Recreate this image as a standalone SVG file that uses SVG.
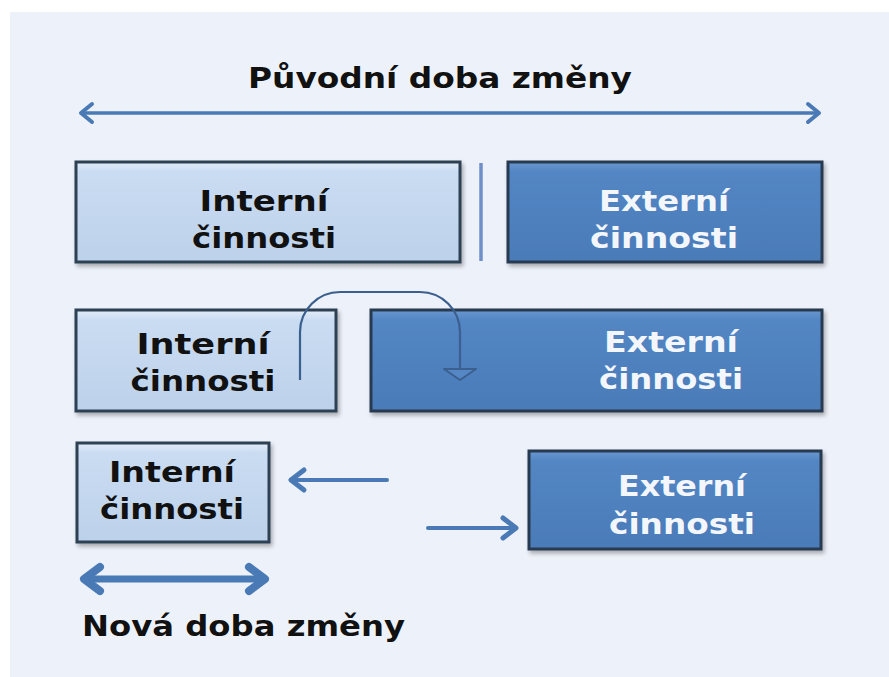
<svg xmlns="http://www.w3.org/2000/svg" width="889" height="677" viewBox="0 0 889 677">
  <defs>
    <linearGradient id="gInt" x1="0" y1="0" x2="0" y2="1">
      <stop offset="0" stop-color="#e2ecf8"/>
      <stop offset="0.1" stop-color="#cadcf2"/>
      <stop offset="1" stop-color="#bcd1ea"/>
    </linearGradient>
    <linearGradient id="gExt" x1="0" y1="0" x2="0" y2="1">
      <stop offset="0" stop-color="#6a97cf"/>
      <stop offset="0.1" stop-color="#5386c4"/>
      <stop offset="1" stop-color="#4b7bb9"/>
    </linearGradient>
    <filter id="shadow" x="-5%" y="-10%" width="112%" height="125%">
      <feGaussianBlur in="SourceAlpha" stdDeviation="2"/>
      <feOffset dx="2" dy="3" result="b"/>
      <feComponentTransfer><feFuncA type="linear" slope="0.3"/></feComponentTransfer>
      <feMerge><feMergeNode/><feMergeNode in="SourceGraphic"/></feMerge>
    </filter>
  </defs>
  <style>
    .int { fill: url(#gInt); stroke: #2f4052; stroke-width: 3; filter: url(#shadow); }
    .ext { fill: url(#gExt); stroke: #283a50; stroke-width: 3; filter: url(#shadow); }
    .t { font-family: "DejaVu Sans", Verdana, sans-serif; font-weight: bold; font-size: 28px; text-anchor: middle; }
    .dark { fill: #111111; }
    .light { fill: #f3f7fc; }
    .lbl { font-family: "DejaVu Sans", Verdana, sans-serif; font-weight: bold; fill: #111111; }
    .arr { fill: none; stroke: #4a7ab5; stroke-linecap: round; }
    .chev { fill: none; stroke: #4a7ab5; stroke-linecap: round; stroke-linejoin: round; }
  </style>

  <rect x="0" y="0" width="889" height="677" fill="#ffffff"/>
  <rect x="10" y="12" width="879" height="665" fill="#edf1f9"/>

  <g id="title">
    <text class="lbl" x="440" y="88" font-size="28" text-anchor="middle" textLength="384" lengthAdjust="spacingAndGlyphs">Původní doba změny</text>
  </g>
  <g id="bottom-label">
    <text class="lbl" x="82" y="636" font-size="28" textLength="323" lengthAdjust="spacingAndGlyphs">Nová doba změny</text>
  </g>

  <g id="int1">
    <rect class="int" x="76" y="162" width="384" height="100"/>
    <text class="t dark" x="264" y="211" textLength="129" lengthAdjust="spacingAndGlyphs">Interní</text>
    <text class="t dark" x="264" y="248" textLength="144" lengthAdjust="spacingAndGlyphs">činnosti</text>
  </g>
  <g id="ext1">
    <rect class="ext" x="508" y="162" width="314" height="100"/>
    <text class="t light" x="664" y="211" textLength="130" lengthAdjust="spacingAndGlyphs">Externí</text>
    <text class="t light" x="664" y="248" textLength="148" lengthAdjust="spacingAndGlyphs">činnosti</text>
  </g>
  <g id="int2">
    <rect class="int" x="76" y="310" width="260" height="101"/>
    <text class="t dark" x="203" y="354" textLength="133" lengthAdjust="spacingAndGlyphs">Interní</text>
    <text class="t dark" x="203" y="391" textLength="145" lengthAdjust="spacingAndGlyphs">činnosti</text>
  </g>
  <g id="ext2">
    <rect class="ext" x="371" y="310" width="451" height="101"/>
    <text class="t light" x="671" y="352" textLength="134" lengthAdjust="spacingAndGlyphs">Externí</text>
    <text class="t light" x="671" y="389" textLength="144" lengthAdjust="spacingAndGlyphs">činnosti</text>
  </g>
  <g id="int3">
    <rect class="int" x="77" y="443" width="192" height="99"/>
    <text class="t dark" x="172" y="482" textLength="126" lengthAdjust="spacingAndGlyphs">Interní</text>
    <text class="t dark" x="172" y="519" textLength="144" lengthAdjust="spacingAndGlyphs">činnosti</text>
  </g>
  <g id="ext3">
    <rect class="ext" x="529" y="451" width="292" height="98"/>
    <text class="t light" x="682" y="496" textLength="128" lengthAdjust="spacingAndGlyphs">Externí</text>
    <text class="t light" x="682" y="534" textLength="146" lengthAdjust="spacingAndGlyphs">činnosti</text>
  </g>

  <g id="connectors">
    <line class="arr" x1="82" y1="113" x2="818" y2="113" stroke-width="3.5"/>
    <path class="chev" d="M92,104 L81,113 L92,122" stroke-width="4"/>
    <path class="chev" d="M808,104 L819,113 L808,122" stroke-width="4"/>
    <line x1="481" y1="163" x2="481" y2="261" stroke="#6f8fc8" stroke-width="3.5"/>
    <path d="M300,380 L300,332 A40,40 0 0 1 340,292 L420,292 A40,40 0 0 1 460,332 L460,369" fill="none" stroke="#3b5f8e" stroke-width="2.2"/>
    <path d="M444,369 L476,369 L460,380 Z" fill="#5487c4" stroke="#3b5f8e" stroke-width="2" stroke-linejoin="round"/>
    <line class="arr" x1="387" y1="480" x2="293" y2="480" stroke-width="4"/>
    <path class="chev" d="M304,470 L291,480 L304,490" stroke-width="5"/>
    <line class="arr" x1="428" y1="528" x2="514" y2="528" stroke-width="4"/>
    <path class="chev" d="M503,518 L516,528 L503,538" stroke-width="5"/>
    <line class="arr" x1="86" y1="579" x2="262" y2="579" stroke-width="7"/>
    <path class="chev" d="M100,567 L84,579 L100,591" stroke-width="8"/>
    <path class="chev" d="M249,567 L265,579 L249,591" stroke-width="8"/>
  </g>
</svg>
